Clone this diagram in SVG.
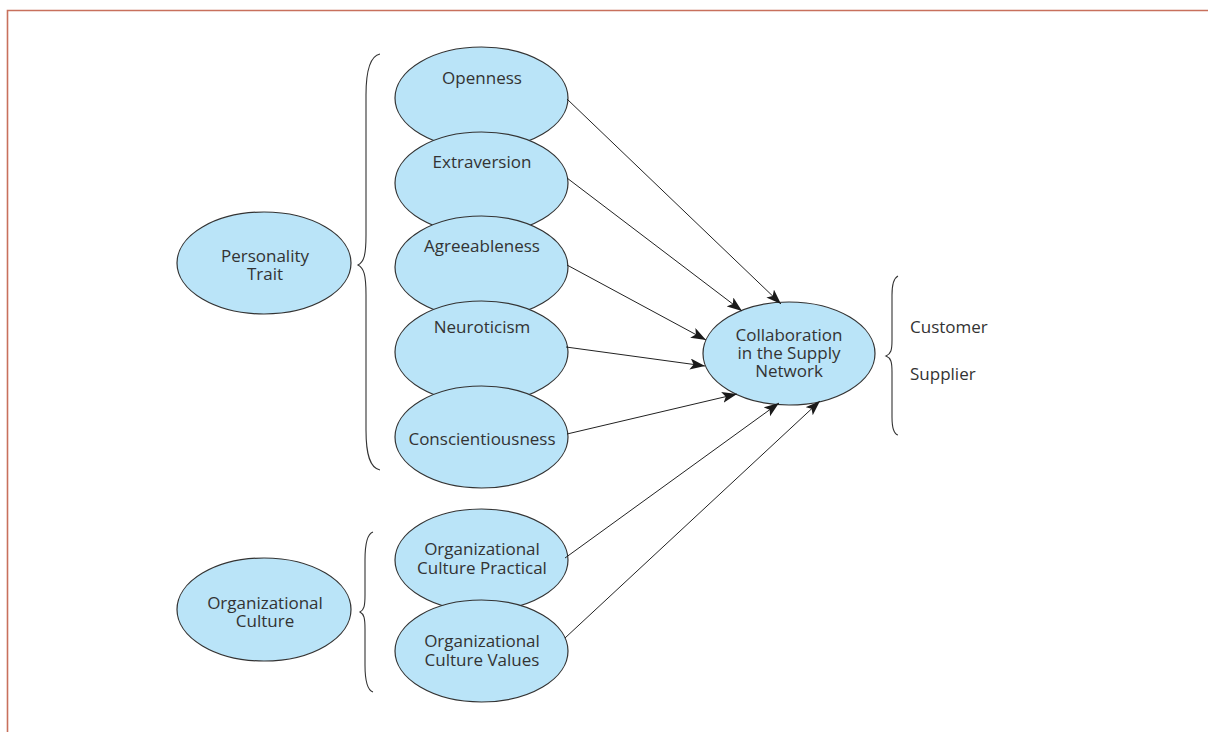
<svg xmlns="http://www.w3.org/2000/svg" width="1208" height="732" viewBox="0 0 1208 732">
  <style>
    .node { fill: #bae4f8; stroke: #333333; stroke-width: 1.2; }
    .label { font-family: "Open Sans", "Liberation Sans", sans-serif; font-size: 17px; fill: #333333; text-anchor: middle; }
    .side { font-family: "Open Sans", "Liberation Sans", sans-serif; font-size: 17px; fill: #333333; }
    .brace { fill: none; stroke: #333333; stroke-width: 1.1; }
    .edge { fill: none; stroke: #222222; stroke-width: 1; marker-end: url(#arrow); }
  </style>
  <defs>
    <marker id="arrow" markerWidth="16" markerHeight="12" refX="15" refY="5.5" orient="auto" markerUnits="userSpaceOnUse">
      <path d="M0,0 L15,5.5 L0,11 L3.5,5.5 Z" fill="#1a1a1a"/>
    </marker>
  </defs>

  <!-- frame -->
  <path d="M7.5,732 L7.5,10.5 L1208,10.5" fill="none" stroke="#c8705c" stroke-width="1.6"/>

  <!-- grouping braces -->
  <g id="braces">
    <path class="brace" d="M380,54 C370,56 366,70 366,95 L366,235 C366,255 364,262 358,265 C364,268 366,275 366,295 L366,430 C366,455 370,468 380,470"/>
    <path class="brace" d="M373,532 C367,534 365,545 365,560 L365,595 C365,606 364,610 360,612 C364,614 365,618 365,629 L365,665 C365,680 367,690 373,692"/>
    <path class="brace" d="M898,276 C894,278 892,284 892,295 L892,340 C892,350 891,354 886,356 C891,358 892,362 892,372 L892,417 C892,428 894,434 898,435"/>
  </g>

  <!-- left-hand constructs -->
  <g id="personality-trait">
    <ellipse class="node" cx="264" cy="263" rx="87" ry="51"/>
    <text class="label" x="265" y="262">Personality</text>
    <text class="label" x="265" y="280">Trait</text>
  </g>
  <g id="organizational-culture">
    <ellipse class="node" cx="264" cy="609.5" rx="87" ry="51.5"/>
    <text class="label" x="265" y="609">Organizational</text>
    <text class="label" x="265" y="627">Culture</text>
  </g>

  <!-- personality dimensions, stacked -->
  <g id="openness">
    <ellipse class="node" cx="481.5" cy="98" rx="86.5" ry="51"/>
    <text class="label" x="482" y="84">Openness</text>
  </g>
  <g id="extraversion">
    <ellipse class="node" cx="481.5" cy="183" rx="86.5" ry="51"/>
    <text class="label" x="482" y="168">Extraversion</text>
  </g>
  <g id="agreeableness">
    <ellipse class="node" cx="481.5" cy="267" rx="86.5" ry="51"/>
    <text class="label" x="482" y="252">Agreeableness</text>
  </g>
  <g id="neuroticism">
    <ellipse class="node" cx="481.5" cy="352" rx="86.5" ry="51"/>
    <text class="label" x="482" y="333">Neuroticism</text>
  </g>
  <g id="conscientiousness">
    <ellipse class="node" cx="481.5" cy="437" rx="86.5" ry="51"/>
    <text class="label" x="482" y="445">Conscientiousness</text>
  </g>

  <!-- culture dimensions -->
  <g id="culture-practical">
    <ellipse class="node" cx="481.5" cy="560" rx="86.5" ry="51"/>
    <text class="label" x="482" y="555">Organizational</text>
    <text class="label" x="482" y="574">Culture Practical</text>
  </g>
  <g id="culture-values">
    <ellipse class="node" cx="481.5" cy="651" rx="86.5" ry="51"/>
    <text class="label" x="482" y="647">Organizational</text>
    <text class="label" x="482" y="666">Culture Values</text>
  </g>

  <!-- outcome -->
  <g id="collaboration">
    <ellipse class="node" cx="789" cy="353.5" rx="86" ry="51.5"/>
    <text class="label" x="789" y="341">Collaboration</text>
    <text class="label" x="789" y="359">in the Supply</text>
    <text class="label" x="789" y="377">Network</text>
  </g>

  <g id="partners">
    <text class="side" x="910" y="333">Customer</text>
    <text class="side" x="910" y="380">Supplier</text>
  </g>

  <!-- paths into the outcome -->
  <g id="connectors">
    <line class="edge" x1="567" y1="99" x2="781" y2="304"/>
    <line class="edge" x1="567" y1="178" x2="742" y2="311"/>
    <line class="edge" x1="567" y1="265" x2="706" y2="340"/>
    <line class="edge" x1="566" y1="347" x2="705" y2="366"/>
    <line class="edge" x1="567" y1="434" x2="737" y2="394"/>
    <line class="edge" x1="565" y1="558" x2="779" y2="403"/>
    <line class="edge" x1="565" y1="638" x2="820" y2="401"/>
  </g>
</svg>
